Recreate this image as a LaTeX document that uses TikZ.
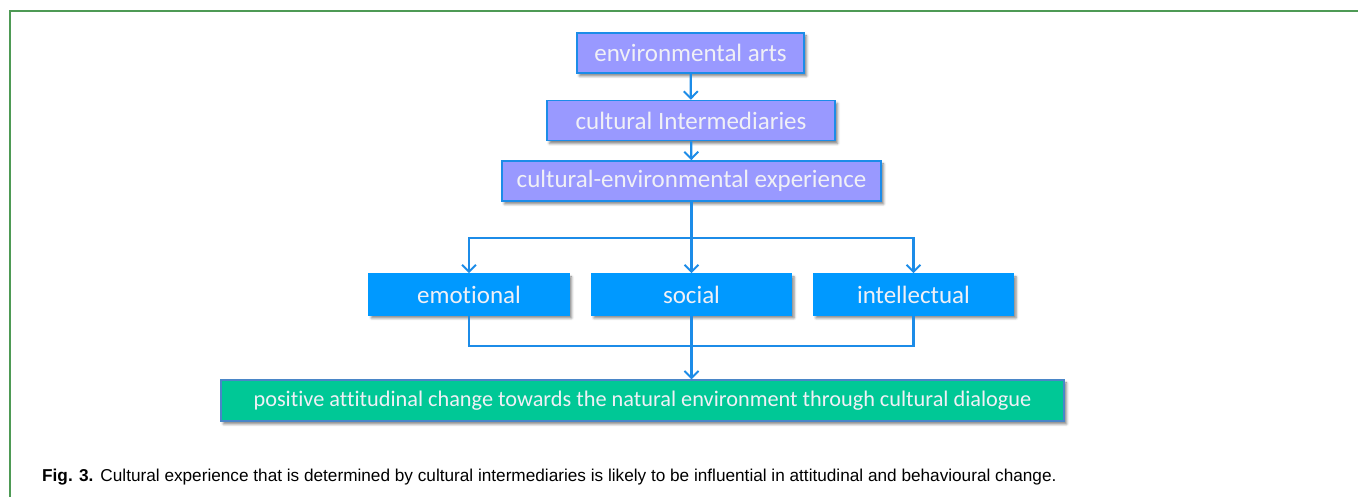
\documentclass[tikz,border=0pt]{standalone}
\usepackage{fontspec}
\setmainfont{Carlito}[RawFeature={-liga}]
\newfontfamily\capfont{Liberation Sans}
\usetikzlibrary{arrows.meta,shadows.blur}

\definecolor{frameGreen}{HTML}{4E9A55}
\definecolor{lineBlue}{HTML}{1C8CE8}
\definecolor{lav}{HTML}{9999FF}
\definecolor{skyBox}{HTML}{0099FF}
\definecolor{mint}{HTML}{00C896}
\definecolor{mintEdge}{HTML}{4A86C8}
\definecolor{boxText}{HTML}{F0F0F6}

\tikzset{
  boxbase/.style={rectangle, inner sep=0pt, text=boxText,
    font=\fontsize{25}{28}\selectfont, line width=1.6pt,
    blur shadow={shadow xshift=2.5pt, shadow yshift=-3pt,
      shadow blur radius=2.5pt, shadow opacity=50}},
  stage/.style={boxbase, fill=lav, draw=lineBlue, minimum height=40pt},
  facet/.style={boxbase, fill=skyBox, draw=skyBox, minimum width=200pt, minimum height=41pt},
  outcome/.style={boxbase, fill=mint, draw=mintEdge, line width=1.2pt,
    minimum width=843pt, minimum height=41pt, font=\fontsize{22.3}{25}\selectfont},
  link/.style={draw=lineBlue, line width=2.2pt},
  arr/.style={link, -{Straight Barb[length=7pt, width=14pt, line width=2pt]}},
}

\begin{document}
\begin{tikzpicture}[x=1pt, y=1pt]
  \useasboundingbox (0,0) rectangle (1358,497);

  % page frame
  \draw[frameGreen, line width=2pt] (1358,486) -- (10,486) -- (10,0);

  % chain of stages
  \node[stage, minimum width=227pt] (arts)  at (690.5,444)   {environmental arts};
  \node[stage, minimum width=288pt] (inter) at (691,376.5)   {cultural Intermediaries};
  \node[stage, minimum width=379pt] (exper) at (691.5,316)   {cultural-environmental experience};

  % three facets of the experience
  \node[facet] (emo) at (469,202.5)   {emotional};
  \node[facet] (soc) at (691.5,202.5) {social};
  \node[facet] (int) at (913.5,202.5) {intellectual};

  % outcome
  \node[outcome] (out) at (642.5,96.5)
    {positive attitudinal change towards the natural environment through cultural dialogue};

  % connectors
  \draw[arr] (arts) -- (inter);
  \draw[arr] (inter) -- (exper);

  \coordinate (split) at (691.5,259);
  \draw[arr] (exper.south) -- (soc.north);
  \draw[arr] (split) -| (emo.north);
  \draw[arr] (split) -| (int.north);

  \coordinate (merge) at (691.5,151);
  \draw[link] (emo.south) |- (merge);
  \draw[link] (int.south) |- (merge);
  \draw[arr] (soc.south) -- (soc.south |- out.north);

  % caption
  \node[anchor=base west, inner sep=0pt, font=\capfont\fontsize{17.2}{20}\selectfont] (cap) at (42,15)
    {\textbf{Fig. 3.}\hspace{7pt}Cultural experience that is determined by cultural intermediaries is likely to be influential in attitudinal and behavioural change.};
\end{tikzpicture}
\end{document}
